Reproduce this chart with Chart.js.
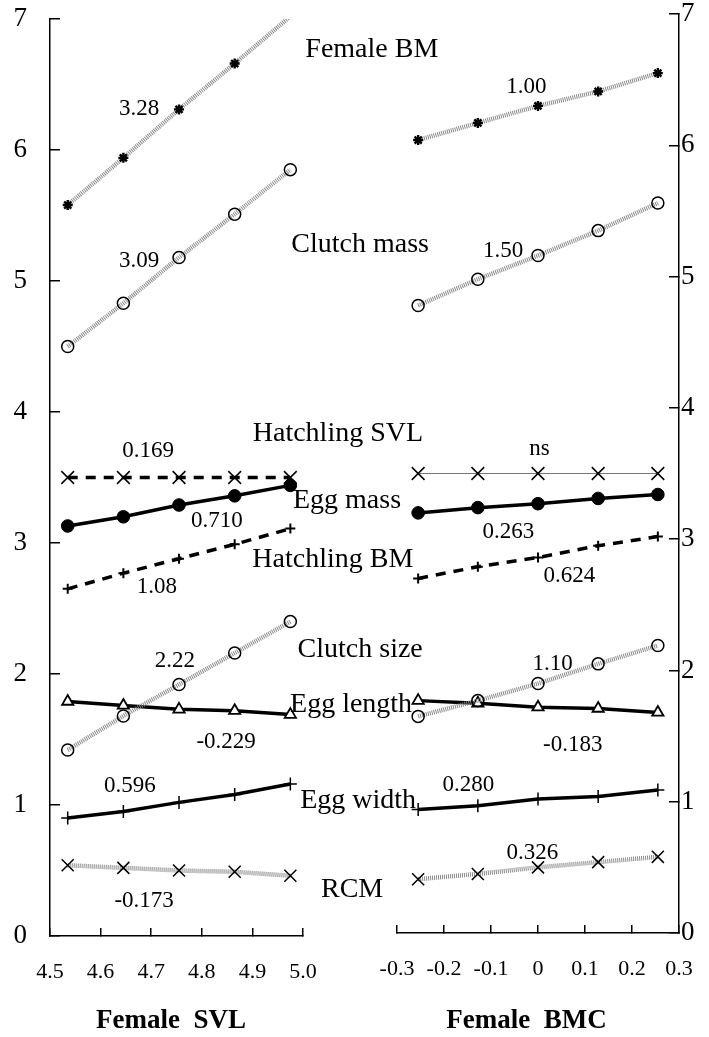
<!DOCTYPE html>
<html>
<head>
<meta charset="utf-8">
<title>Female SVL / Female BMC</title>
<script src="https://cdn.jsdelivr.net/npm/chart.js@4/dist/chart.umd.min.js"></script>
<style>
  body { margin: 0; background: #fff; }
  #wrap { position: relative; width: 709px; height: 1037px; }
  #wrap canvas { position: absolute; left: 0; top: 0; }
</style>
</head>
<body>
<div id="wrap">
  <canvas id="svlChart" width="709" height="1037"></canvas>
  <canvas id="bmcChart" width="709" height="1037"></canvas>
</div>
<script>
// traits, top to bottom
const traits = ['Female BM', 'Clutch mass', 'Hatchling SVL', 'Egg mass', 'Hatchling BM',
                'Clutch size', 'Egg length', 'Egg width', 'RCM'];

// x values of the five points in each panel
const svlX = [4.535, 4.645, 4.755, 4.865, 4.975];
const bmcX = [-0.255, -0.128, 0, 0.128, 0.255];

// left panel (Female SVL)
const svlFemaleBM   = [5.58, 5.94, 6.31, 6.66, 7.02];
const svlClutchMass = [4.50, 4.83, 5.18, 5.51, 5.85];
const svlHatchSVL   = [3.50, 3.50, 3.50, 3.50, 3.50];
const svlEggMass    = [3.13, 3.20, 3.29, 3.36, 3.44];
const svlHatchBM    = [2.65, 2.77, 2.88, 2.99, 3.11];
const svlClutchSize = [1.42, 1.68, 1.92, 2.16, 2.40];
const svlEggLength  = [1.79, 1.76, 1.73, 1.72, 1.69];
const svlEggWidth   = [0.90, 0.95, 1.02, 1.08, 1.16];
const svlRCM        = [0.54, 0.52, 0.50, 0.49, 0.46];

// right panel (Female BMC)
const bmcFemaleBM   = [6.04, 6.17, 6.30, 6.41, 6.55];
const bmcClutchMass = [4.78, 4.98, 5.16, 5.35, 5.56];
const bmcHatchSVL   = [3.50, 3.50, 3.50, 3.50, 3.50];
const bmcEggMass    = [3.20, 3.24, 3.27, 3.31, 3.34];
const bmcHatchBM    = [2.70, 2.79, 2.86, 2.95, 3.02];
const bmcClutchSize = [1.65, 1.77, 1.90, 2.05, 2.19];
const bmcEggLength  = [1.77, 1.75, 1.72, 1.71, 1.68];
const bmcEggWidth   = [0.94, 0.97, 1.02, 1.04, 1.09];
const bmcRCM        = [0.41, 0.45, 0.50, 0.54, 0.58];

// slope labels, same order as traits
const svlSlopes = ['3.28', '3.09', '0.169', '0.710', '1.08', '2.22', '-0.229', '0.596', '-0.173'];
const bmcSlopes = ['1.00', '1.50', 'ns', '0.263', '0.624', '1.10', '-0.183', '0.280', '0.326'];

// where the labels sit, in data units of their panel [x, y(baseline)]
const svlSlopePos = [[4.676, 6.27], [4.676, 5.11], [4.694, 3.66], [4.830, 3.12], [4.711, 2.62],
                     [4.747, 2.05], [4.848, 1.435], [4.658, 1.10], [4.686, 0.22]];
const bmcSlopePos = [[-0.025, 6.40], [-0.074, 5.15], [0.003, 3.64], [-0.063, 3.01], [0.067, 2.67],
                     [0.031, 2.00], [0.074, 1.386], [-0.148, 1.08], [-0.012, 0.56]];
const traitPos = [[5.136, 6.71], [5.113, 5.22], [5.069, 3.78], [5.087, 3.27], [5.059, 2.82],
                  [5.113, 2.13], [5.095, 1.71], [5.109, 0.98], [5.097, 0.30]];

// axis titles, below the tick labels
const svlTitle = 'Female  SVL';
const bmcTitle = 'Female  BMC';
const svlTitlePos = [4.739, -0.702];
const bmcTitlePos = [-0.0245, -0.7235];

const SERIF = '"Liberation Serif", "Times New Roman", serif';
Chart.defaults.font.family = SERIF;
Chart.defaults.color = '#000';

const svlLines = ['stipple', 'stipple', 'dash', 'solid', 'dash', 'stipple', 'solid', 'solid', 'stipple'];
const bmcLines = ['stipple', 'stipple', 'thin', 'solid', 'dash', 'stipple', 'solid', 'solid', 'stipple'];

const markers = [
  { style: 'star',     r: 5,   fill: 'rgba(0,0,0,0)', w: 2.4 },
  { style: 'circle',   r: 6,   fill: 'rgba(0,0,0,0)', w: 1.5 },
  { style: 'crossRot', r: 9,   fill: 'rgba(0,0,0,0)', w: 1.5 },
  { style: 'circle',   r: 6.3, fill: '#000',          w: 1 },
  { style: 'cross',    r: 5,   fill: 'rgba(0,0,0,0)', w: 2 },
  { style: 'circle',   r: 6,   fill: 'rgba(0,0,0,0)', w: 1.5 },
  { style: 'triangle', r: 6.5, fill: '#fff',          w: 1.8 },
  { style: 'cross',    r: 6.5, fill: 'rgba(0,0,0,0)', w: 1.5 },
  { style: 'crossRot', r: 8.5, fill: 'rgba(0,0,0,0)', w: 1.5 }
];

function lineStyle(kind) {
  if (kind === 'stipple') return { borderColor: '#8a8a8a', borderWidth: 4.5, borderDash: [1, 1] };
  if (kind === 'dash') return { borderColor: '#000', borderWidth: 3.5, borderDash: [10, 8] };
  if (kind === 'thin') return { borderColor: '#777', borderWidth: 1.2, borderDash: [] };
  return { borderColor: '#000', borderWidth: 3.5, borderDash: [] };
}

function buildDatasets(xs, series, lines) {
  return series.map((ys, i) => {
    const m = markers[i];
    return Object.assign({
      label: traits[i],
      data: ys.map((y, k) => ({ x: xs[k], y: y })),
      tension: 0,
      pointStyle: m.style,
      // points that fall above the axis top are not marked
      pointRadius: ctx => (ctx.raw && ctx.raw.y > 7 ? 0 : m.r),
      pointBackgroundColor: m.fill,
      pointBorderColor: '#000',
      pointBorderWidth: m.w
    }, lineStyle(lines[i]));
  });
}

const panelText = {
  id: 'panelText',
  afterDatasetsDraw(chart, args, opts) {
    const { ctx, scales: { x, y } } = chart;
    ctx.save();
    ctx.fillStyle = '#000';
    ctx.textAlign = 'center';
    ctx.textBaseline = 'alphabetic';
    opts.items.forEach(it => {
      ctx.font = it.font;
      ctx.fillText(it.text, x.getPixelForValue(it.x), y.getPixelForValue(it.y));
    });
    ctx.restore();
  }
};

// ticks point inwards (negative tickLength), so the label padding is large;
// drop the padding the scales ask the layout for, the chart area is set by layout.padding
function yAxis(position, width, padding) {
  return {
    type: 'linear', position: position, min: 0, max: 7,
    ticks: { stepSize: 1, padding: padding, font: { size: 27, lineHeight: 1 } },
    grid: { drawOnChartArea: false, tickLength: -10, color: '#000', lineWidth: 1.5 },
    border: { color: '#000', width: 1.5 },
    afterFit: s => { s.width = width; s.paddingTop = 0; s.paddingBottom = 0; }
  };
}

function xAxis(min, max, fmt, height) {
  return {
    type: 'linear', min: min, max: max,
    ticks: { stepSize: 0.1, padding: 33, autoSkip: false, maxRotation: 0,
             font: { size: 22, lineHeight: 1 }, callback: fmt },
    grid: { drawOnChartArea: false, tickLength: -8, color: '#000', lineWidth: 1.5 },
    border: { color: '#000', width: 1.5 },
    afterFit: s => { s.height = height; s.paddingLeft = 0; s.paddingRight = 0; }
  };
}

const svlSeries = [svlFemaleBM, svlClutchMass, svlHatchSVL, svlEggMass, svlHatchBM,
                   svlClutchSize, svlEggLength, svlEggWidth, svlRCM];
const bmcSeries = [bmcFemaleBM, bmcClutchMass, bmcHatchSVL, bmcEggMass, bmcHatchBM,
                   bmcClutchSize, bmcEggLength, bmcEggWidth, bmcRCM];

const slopeFont = '23px ' + SERIF;
const traitFont = '28px ' + SERIF;
const titleFont = 'bold 27px ' + SERIF;

const svlItems = svlSlopes.map((t, i) => ({ text: t, x: svlSlopePos[i][0], y: svlSlopePos[i][1], font: slopeFont }))
  .concat(traits.map((t, i) => ({ text: t, x: traitPos[i][0], y: traitPos[i][1], font: traitFont })))
  .concat([{ text: svlTitle, x: svlTitlePos[0], y: svlTitlePos[1], font: titleFont }]);
const bmcItems = bmcSlopes.map((t, i) => ({ text: t, x: bmcSlopePos[i][0], y: bmcSlopePos[i][1], font: slopeFont }))
  .concat([{ text: bmcTitle, x: bmcTitlePos[0], y: bmcTitlePos[1], font: titleFont }]);

const common = {
  responsive: false,
  animation: false,
  devicePixelRatio: 1,
  events: []
};

new Chart(document.getElementById('svlChart'), {
  type: 'line',
  data: { datasets: buildDatasets(svlX, svlSeries, svlLines) },
  options: Object.assign({}, common, {
    layout: { padding: { left: 0, top: 19, right: 406, bottom: 0 } },
    scales: {
      x: xAxis(4.5, 5.0, v => Number(v).toFixed(1), 101),
      y: yAxis('left', 50, 33)
    },
    plugins: { legend: { display: false }, tooltip: { enabled: false }, panelText: { items: svlItems } }
  }),
  plugins: [panelText]
});

new Chart(document.getElementById('bmcChart'), {
  type: 'line',
  data: { datasets: buildDatasets(bmcX, bmcSeries, bmcLines) },
  options: Object.assign({}, common, {
    layout: { padding: { left: 397, top: 14, right: 0, bottom: 0 } },
    scales: {
      x: xAxis(-0.3, 0.3, v => (Math.abs(v) < 1e-9 ? '0' : Number(v).toFixed(1)), 104),
      y: yAxis('right', 30, 12)
    },
    plugins: { legend: { display: false }, tooltip: { enabled: false }, panelText: { items: bmcItems } }
  }),
  plugins: [panelText]
});
</script>
</body>
</html>
